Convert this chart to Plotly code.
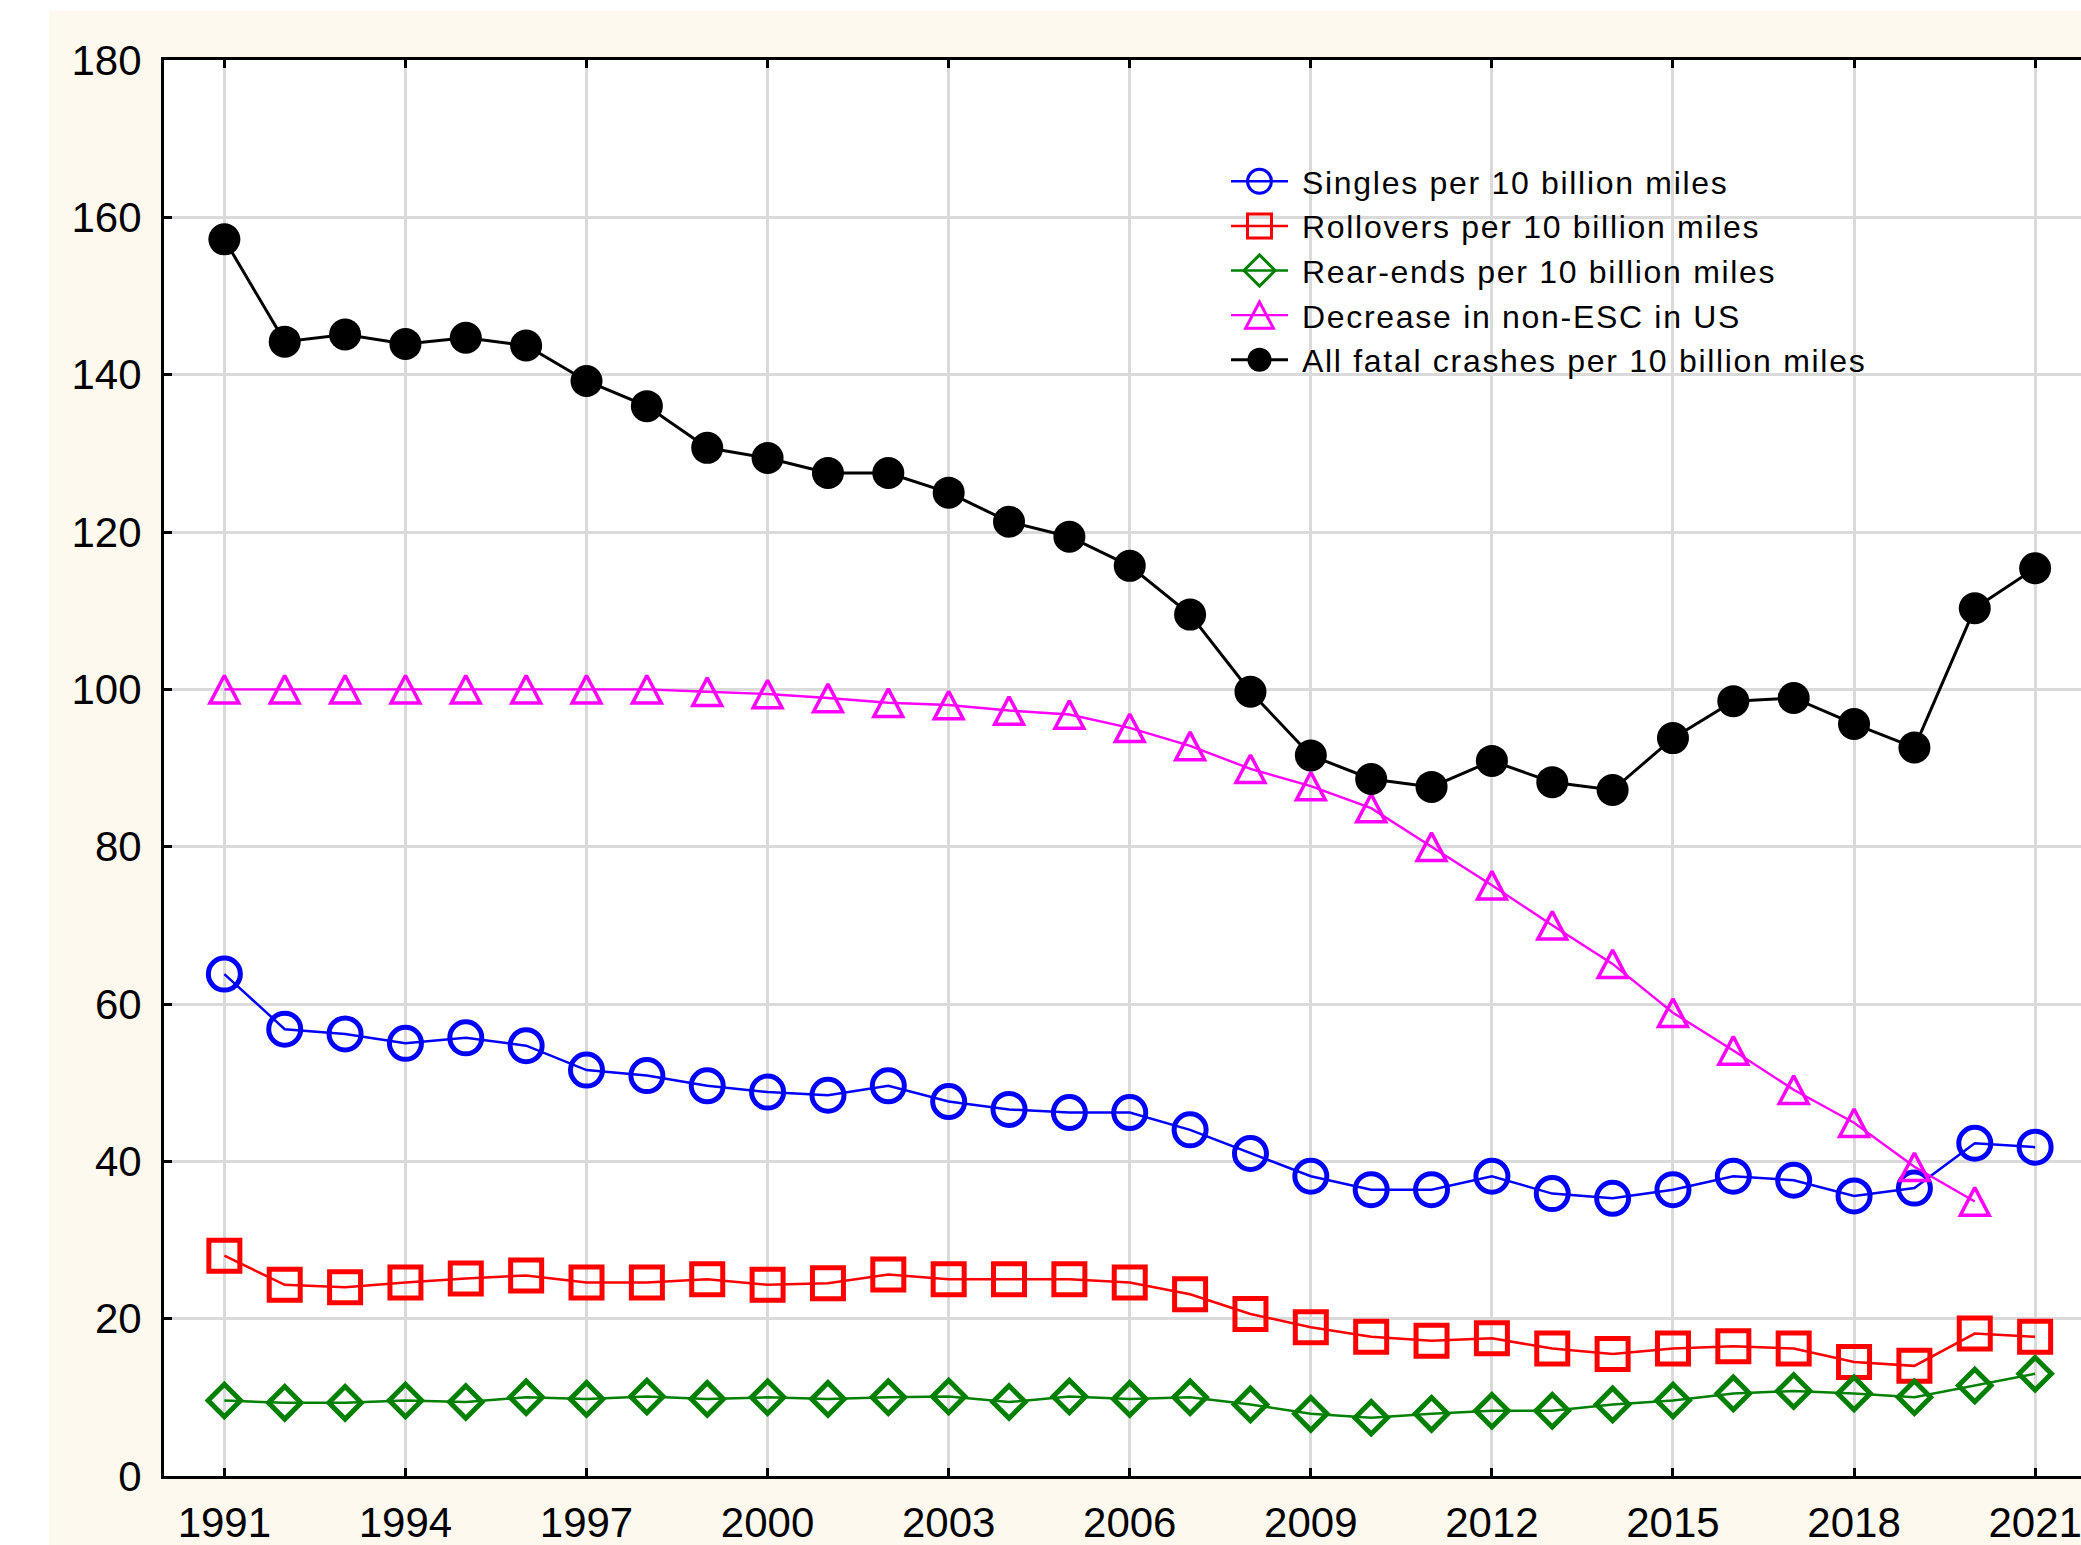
import plotly.graph_objects as go

# Crash rates per 10 billion vehicle miles, 1991-2021
years = list(range(1991, 2022))

singles = [63.8, 56.8, 56.2, 55.0, 55.7, 54.7, 51.6, 50.9, 49.6, 48.8,
           48.4, 49.6, 47.6, 46.6, 46.2, 46.2, 44.0, 41.0, 38.1, 36.4,
           36.4, 38.1, 35.9, 35.3, 36.4, 38.1, 37.6, 35.6, 36.6, 42.3, 41.8]

rollovers = [28.0, 24.3, 24.0, 24.6, 25.1, 25.5, 24.6, 24.6, 25.0, 24.3,
             24.5, 25.6, 25.0, 25.0, 25.0, 24.6, 23.1, 20.6, 18.9, 17.7,
             17.2, 17.5, 16.2, 15.5, 16.2, 16.5, 16.2, 14.5, 14.0, 18.1, 17.7]

rear_ends = [9.6, 9.3, 9.3, 9.6, 9.4, 10.0, 9.8, 10.1, 9.8, 10.0,
             9.8, 10.0, 10.1, 9.4, 10.1, 9.8, 10.0, 9.1, 7.9, 7.4,
             7.9, 8.3, 8.3, 9.1, 9.6, 10.5, 10.8, 10.5, 10.0, 11.5, 13.0]

non_esc_years = list(range(1991, 2021))
non_esc = [100.0, 100.0, 100.0, 100.0, 100.0, 100.0, 100.0, 100.0, 99.7, 99.4,
           98.9, 98.3, 98.0, 97.3, 96.8, 95.1, 92.8, 89.9, 87.7, 84.9,
           80.0, 75.1, 70.0, 65.1, 58.9, 54.1, 49.1, 44.9, 39.3, 34.9]

all_fatal = [157.2, 144.2, 145.1, 143.9, 144.7, 143.7, 139.2, 136.0, 130.7, 129.4,
             127.5, 127.5, 125.0, 121.3, 119.4, 115.7, 109.5, 99.7, 91.6, 88.6,
             87.6, 90.9, 88.2, 87.2, 93.8, 98.5, 98.9, 95.6, 92.6, 110.3, 115.4]

x_ticks = list(range(1991, 2022, 3))
y_ticks = list(range(0, 181, 20))

FONT = "Liberation Sans, Arial, sans-serif"
CREAM = "#FEF9EF"

fig = go.Figure()

series = [
    ("Singles per 10 billion miles", years, singles, "#0000FF", "circle-open", 32, 5, 2.5),
    ("Rollovers per 10 billion miles", years, rollovers, "#FF0000", "square-open", 31, 5, 2.5),
    ("Rear-ends per 10 billion miles", years, rear_ends, "#008000", "diamond-open", 25, 5, 2.5),
    ("Decrease in non-ESC in US", non_esc_years, non_esc, "#FF00FF", "triangle-up-open", 25, 3.5, 2.4),
]
for name, xs, ys, color, symbol, size, mlw, lw in series:
    fig.add_trace(go.Scatter(
        x=xs, y=ys, name=name, legendgroup=name, mode="lines+markers",
        line=dict(color=color, width=lw),
        marker=dict(symbol=symbol, size=size, color=color, line=dict(width=mlw, color=color)),
    ))

fig.add_trace(go.Scatter(
    x=years, y=all_fatal, name="All fatal crashes per 10 billion miles",
    legendgroup="all", mode="lines+markers",
    line=dict(color="#000000", width=3),
    marker=dict(symbol="circle", size=32, color="#000000", line=dict(width=0)),
))

# white strips outside the cream panel
fig.add_shape(type="rect", xref="paper", yref="paper", layer="below",
              x0=-0.2, x1=(49 - 164) / 1917, y0=-0.2, y1=1.2,
              fillcolor="white", line=dict(width=0))
fig.add_shape(type="rect", xref="paper", yref="paper", layer="below",
              x0=-0.2, x1=1.2, y0=(1476 - 11) / 1416, y1=1.2,
              fillcolor="white", line=dict(width=0))

fig.update_layout(
    width=2081, height=1545,
    margin=dict(l=164, r=0, t=60, b=69, autoexpand=False),
    paper_bgcolor=CREAM, plot_bgcolor="white",
    font=dict(family=FONT, color="black"),
    showlegend=True,
    legend=dict(
        x=(1226 - 164) / 1917, y=(1476 - 154) / 1416, xanchor="left", yanchor="top",
        bgcolor="rgba(0,0,0,0)", borderwidth=0,
        font=dict(family=FONT, size=32, color="black"),
        itemwidth=57, tracegroupgap=0, itemsizing="trace",
    ),
    xaxis=dict(
        range=[1990, 2021.76], tickmode="array", tickvals=x_ticks,
        ticktext=[str(v) for v in x_ticks], ticklabeloverflow="allow",
        showgrid=True, gridcolor="#DADADA", gridwidth=2.7,
        showline=True, linecolor="black", linewidth=3, mirror="ticks",
        ticks="inside", ticklen=8, tickwidth=3, tickcolor="black",
        tickfont=dict(family=FONT, size=42, color="black"),
        zeroline=False, ticklabelstandoff=8,
    ),
    yaxis=dict(
        range=[0, 180], tickmode="array", tickvals=y_ticks,
        showgrid=True, gridcolor="#DADADA", gridwidth=2.7,
        showline=True, linecolor="black", linewidth=3,
        ticks="inside", ticklen=8, tickwidth=3, tickcolor="black",
        tickfont=dict(family=FONT, size=42, color="black"),
        zeroline=False, ticklabelstandoff=11,
    ),
)

# legend text: wider tracking and a small gap after the symbol; larger legend markers;
# triangles made taller and centred on their points
post = """
document.querySelectorAll('.legend .scrollbox').forEach(function(g){g.removeAttribute('clip-path');});
document.querySelectorAll('.legendtext').forEach(function(t){
  t.setAttribute('letter-spacing','1.7px');
  t.setAttribute('x', parseFloat(t.getAttribute('x') || 0) + 9);
});
document.querySelectorAll('.legendpoints path.scatterpts').forEach(function(p, i){
  var tr = p.getAttribute('transform') || '';
  var extra = ' scale(1.5)';
  if (i === 3) { extra += ' scale(1,1.45) translate(0,2)'; }
  p.setAttribute('transform', tr + extra);
  p.setAttribute('vector-effect', 'non-scaling-stroke');
  p.style.strokeWidth = '3px';
});
var traces = document.querySelectorAll('.scatterlayer .trace');
if (traces.length > 3) {
  traces[3].querySelectorAll('.points path').forEach(function(p){
    var tr = p.getAttribute('transform') || '';
    p.setAttribute('transform', tr + ' scale(1,1.47) translate(0,3.1)');
    p.setAttribute('vector-effect', 'non-scaling-stroke');
  });
}
"""
fig.write_html("out.html", post_script=post, config={"displayModeBar": False})
